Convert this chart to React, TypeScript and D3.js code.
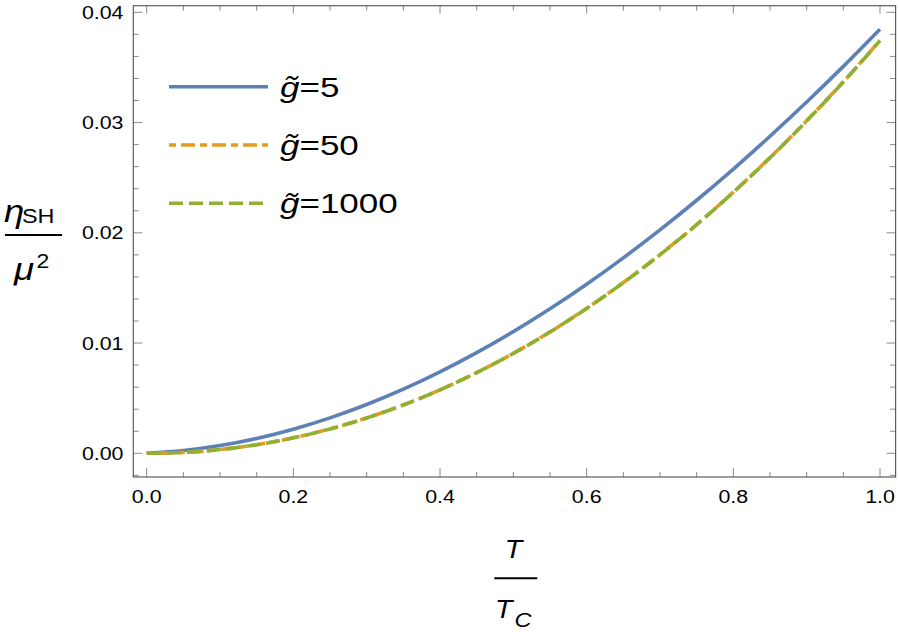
import React from "react";
import * as d3 from "d3";

const tValues = [0, 0.05, 0.1, 0.15, 0.2, 0.25, 0.3, 0.35, 0.4, 0.45, 0.5, 0.55, 0.6, 0.65, 0.7, 0.75, 0.8, 0.85, 0.9, 0.95, 1.0];
const g5 = [0, 0.000249, 0.0007, 0.001347, 0.002186, 0.003213, 0.004425, 0.005818, 0.007386, 0.009126, 0.011035, 0.013106, 0.015338, 0.017726, 0.020265, 0.022953, 0.025783, 0.028754, 0.031859, 0.035096, 0.03846];
const g50 = [0, 0.00008, 0.00034, 0.00078, 0.001404, 0.00221, 0.003204, 0.004386, 0.005756, 0.007315, 0.009066, 0.01101, 0.013149, 0.015485, 0.018018, 0.02075, 0.023683, 0.026816, 0.030155, 0.033698, 0.03745];
const g1000 = [0, 0.000079, 0.000339, 0.000778, 0.001402, 0.002208, 0.003201, 0.004382, 0.005751, 0.007309, 0.009059, 0.011002, 0.01314, 0.015475, 0.018007, 0.020738, 0.02367, 0.026802, 0.03014, 0.033682, 0.03743];
const seriesLabels = ["5", "50", "1000"];
const xTicks = [0, 0.2, 0.4, 0.6, 0.8, 1.0];
const yTicks = [0, 0.01, 0.02, 0.03, 0.04];

const W = 899, H = 633;
const left = 133.3, right = 895.6, top = 5.7, bottom = 477;
const x = d3.scaleLinear().domain([0, 1]).range([146.7, 880]);
const y = d3.scaleLinear().domain([0, 0.04]).range([453.3, 12.3]);

const colors = ["#5E81B5", "#E19C24", "#8FB032"];
const dashes = ["none", "7,5,14,5", "14,6"];

function ST(props: { x: number; y: number; sx?: number; size: number; anchor?: string; italic?: boolean; children: React.ReactNode }) {
  const sx = props.sx ?? 1.18;
  return (
    <text
      transform={`translate(${props.x},${props.y}) scale(${sx},1)`}
      fontSize={props.size}
      textAnchor={props.anchor || "start"}
      fontStyle={props.italic ? "italic" : "normal"}
      fill="#000"
    >
      {props.children}
    </text>
  );
}

export default function App() {
  const series = [g5, g50, g1000];
  const line = d3.line<number>()
    .x((_, i) => x(tValues[i]))
    .y((d) => y(d))
    .curve(d3.curveMonotoneX);

  const xMin = x.invert(left), xMax = x.invert(right);
  const yMin = y.invert(bottom), yMax = y.invert(top);
  const xMinor = d3.range(-0.05, 1.1, 0.05).filter((v) => v >= xMin && v <= xMax && !xTicks.some((t) => Math.abs(t - v) < 1e-6));
  const yMinor = d3.range(-0.004, 0.044, 0.002).filter((v) => v >= yMin && v <= yMax && !yTicks.some((t) => Math.abs(t - v) < 1e-7));

  const tickColor = "#8a8a8a";
  const font = "'Liberation Sans', Arial, sans-serif";

  return (
    <svg width={W} height={H} style={{ position: "absolute", left: 0, top: 0, background: "#fff" }} fontFamily={font}>
      <g stroke={tickColor} strokeWidth={1}>
        {xTicks.map((t) => (
          <g key={"xt" + t}>
            <line x1={x(t)} x2={x(t)} y1={bottom} y2={bottom - 9} />
            <line x1={x(t)} x2={x(t)} y1={top} y2={top + 8} />
          </g>
        ))}
        {xMinor.map((t) => (
          <g key={"xm" + t}>
            <line x1={x(t)} x2={x(t)} y1={bottom} y2={bottom - 5} />
            <line x1={x(t)} x2={x(t)} y1={top} y2={top + 5} />
          </g>
        ))}
        {yTicks.map((t) => (
          <g key={"yt" + t}>
            <line x1={left} x2={left + 9} y1={y(t)} y2={y(t)} />
            <line x1={right} x2={right - 9} y1={y(t)} y2={y(t)} />
          </g>
        ))}
        {yMinor.map((t) => (
          <g key={"ym" + t}>
            <line x1={left} x2={left + 5.5} y1={y(t)} y2={y(t)} />
            <line x1={right} x2={right - 5.5} y1={y(t)} y2={y(t)} />
          </g>
        ))}
      </g>
      <rect x={left} y={top} width={right - left} height={bottom - top} fill="none" stroke="#5c5c5c" strokeWidth={1.2} />
      {xTicks.map((t) => (
        <ST key={"xl" + t} x={x(t)} y={503} size={18.6} sx={1.15} anchor="middle">{t.toFixed(1)}</ST>
      ))}
      {yTicks.map((t) => (
        <ST key={"yl" + t} x={123.5} y={y(t) + 6.6} size={18.6} sx={1.15} anchor="end">{t.toFixed(2)}</ST>
      ))}
      <g fill="none" strokeWidth={3.6}>
        {series.map((s, i) => (
          <path key={"s" + i} d={line(s) || ""} stroke={colors[i]} strokeDasharray={dashes[i]} />
        ))}
      </g>
      {seriesLabels.map((lab, i) => {
        const ly = [86.7, 145, 203.3][i];
        return (
          <g key={"lg" + i}>
            <line x1={169} x2={268} y1={ly} y2={ly} stroke={colors[i]} strokeWidth={3.6} strokeDasharray={dashes[i]} />
            <ST x={280} y={ly + 9.8} size={28} sx={1.25}>
              <tspan fontStyle="italic">{"g\u0303"}</tspan>
              <tspan>{"=" + lab}</tspan>
            </ST>
          </g>
        );
      })}
      <ST x={4} y={222} size={31} italic>η</ST>
      <ST x={22} y={223.3} size={19.5} sx={1.2}>SH</ST>
      <line x1={5} x2={62} y1={235} y2={235} stroke="#000" strokeWidth={2} />
      <ST x={14} y={280} size={31} italic>μ</ST>
      <ST x={36.5} y={268} size={20} sx={1.15}>2</ST>
      <ST x={513.5} y={558.3} size={25.5} sx={1.12} italic anchor="middle">T</ST>
      <line x1={494.3} x2={537.3} y1={578.3} y2={578.3} stroke="#000" strokeWidth={2} />
      <ST x={495} y={618.3} size={25.5} sx={1.12} italic>T</ST>
      <ST x={514.5} y={626.7} size={21} sx={1.12} italic>C</ST>
    </svg>
  );
}
